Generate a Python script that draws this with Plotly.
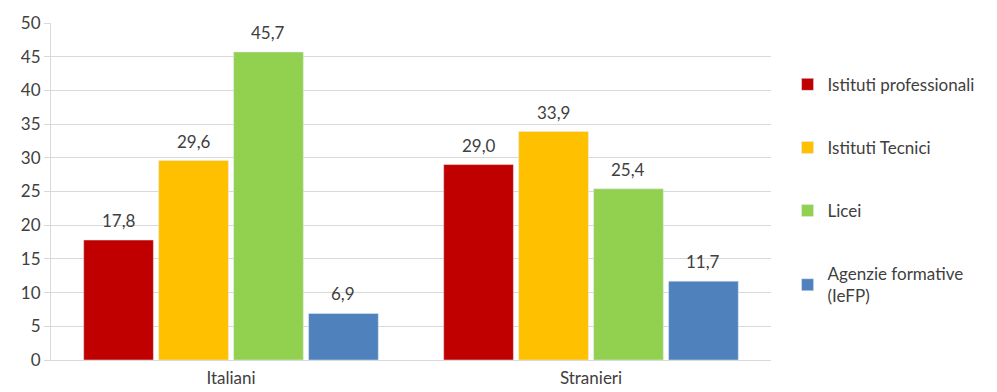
import plotly.graph_objects as go

categories = ["Italiani", "Stranieri"]
series_names = ["Istituti professionali", "Istituti Tecnici", "Licei", "Agenzie formative<br>(IeFP)"]
values = [
    [17.8, 29.0],
    [29.6, 33.9],
    [45.7, 25.4],
    [6.9, 11.7],
]
colors = ["#C00000", "#FFC000", "#92D050", "#4F81BD"]
y_ticks = [0, 5, 10, 15, 20, 25, 30, 35, 40, 45, 50]

FONT = "Lato, Open Sans, sans-serif"
TXT = "#404040"
BARGAP = 0.167

fig = go.Figure()
n = len(series_names)
slot = (1 - BARGAP) / n
for i, (name, vals, col) in enumerate(zip(series_names, values, colors)):
    fig.add_trace(go.Bar(
        x=categories, y=vals, name=name, marker_color=col, legendgroup=f"g{i}",
    ))
    for ci, v in enumerate(vals):
        fig.add_annotation(
            x=ci + (i - (n - 1) / 2) * slot, y=v, xref="x", yref="y",
            text=f"{v:.1f}".replace(".", ","), showarrow=False,
            yanchor="bottom", yshift=7,
            font=dict(family=FONT, size=17, color=TXT),
        )

fig.update_layout(
    width=997, height=392,
    margin=dict(l=51, r=226, t=23, b=32),
    paper_bgcolor="white", plot_bgcolor="white",
    barmode="group", bargap=BARGAP, bargroupgap=0.07,
    font=dict(family=FONT, size=17, color=TXT),
    legend=dict(x=1.023, y=0.87, yanchor="top", xanchor="left",
                font=dict(family=FONT, size=17, color=TXT),
                tracegroupgap=38, itemwidth=30),
    showlegend=True,
)
fig.update_yaxes(range=[0, 50], tickvals=y_ticks, showgrid=True, gridcolor="#D9D9D9",
                 zeroline=False, showline=True, linecolor="#D9D9D9",
                 ticks="outside", ticklen=6, tickcolor="#D9D9D9",
                 tickfont=dict(size=17, color=TXT), automargin=False)
fig.update_xaxes(showline=True, linecolor="#D9D9D9", tickfont=dict(size=17, color=TXT),
                 ticklabelstandoff=3, automargin=False)

fig.write_html("out.html")
